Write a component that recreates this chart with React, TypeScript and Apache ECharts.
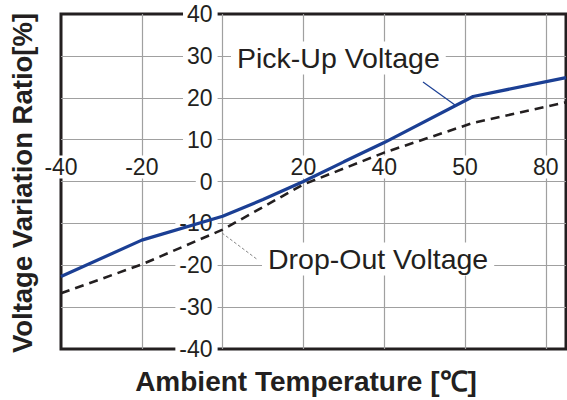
import React, { useEffect, useRef } from "react";
import * as echarts from "echarts";

const xTickValues = [-40, -20, 20, 40, 60, 80];
const xTickLabels = ["-40", "-20", "20", "40", "50", "80"];
const pickUpTemp = [-40, -20, 0, 10, 20, 30, 40, 62, 85];
const pickUpRatio = [-22.7, -14, -8.3, -4.3, 0, 4.7, 9.3, 20.3, 24.8];
const dropOutTemp = [-40, -20, 0, 20, 40, 62, 85];
const dropOutRatio = [-26.7, -19.8, -11.5, -0.7, 6.9, 14, 18.9];

const FONT = "'Liberation Sans', Arial, sans-serif";
const GRID = { left: 61, top: 14, right: 1, bottom: 51 };
const W = 567;
const H = 400;

export default function App() {
  const ref = useRef<HTMLDivElement>(null);
  useEffect(() => {
    if (!ref.current) return;
    const chart = echarts.init(ref.current, undefined, { renderer: "svg" });
    const pick = pickUpTemp.map((t, i) => [t, pickUpRatio[i]]);
    const drop = dropOutTemp.map((t, i) => [t, dropOutRatio[i]]);
    chart.setOption({
      animation: false,
      backgroundColor: "#fff",
      grid: {
        ...GRID,
        show: true,
        borderColor: "#231f20",
        borderWidth: 3,
        backgroundColor: "transparent",
      },
      xAxis: {
        type: "value",
        min: -40,
        max: 85,
        interval: 20,
        axisLine: { show: false, onZero: false },
        axisTick: { show: false },
        splitLine: {
          show: true,
          showMinLine: false,
          showMaxLine: false,
          lineStyle: { color: "#a0a0a0", width: 1.2 },
        },
        axisLabel: {
          inside: true,
          customValues: xTickValues,
          margin: 3,
          fontSize: 23,
          fontFamily: FONT,
          color: "#231f20",
          backgroundColor: "#fff",
          padding: [0, 3, 0, 3],
          formatter: (v: number) => {
            const i = xTickValues.indexOf(v);
            return i >= 0 ? xTickLabels[i] : "";
          },
        },
      },
      yAxis: {
        type: "value",
        min: -40,
        max: 40,
        interval: 10,
        axisLine: { show: false, onZero: false },
        axisTick: { show: false },
        splitLine: {
          show: true,
          showMinLine: false,
          showMaxLine: false,
          lineStyle: { color: "#a0a0a0", width: 1.2 },
        },
        axisLabel: {
          margin: 5,
          fontSize: 23,
          fontFamily: FONT,
          color: "#231f20",
          backgroundColor: "#fff",
          padding: [0, 5, 0, 4],
        },
      },
      series: [
        {
          name: "Pick-Up Voltage",
          type: "line",
          data: pick,
          showSymbol: false,
          smooth: false,
          lineStyle: { color: "#1b3f94", width: 3.2 },
          z: 3,
        },
        {
          name: "Drop-Out Voltage",
          type: "line",
          data: drop,
          showSymbol: false,
          lineStyle: { color: "#231f20", width: 2.6, type: [9, 6] },
          z: 3,
        },
      ],
      graphic: [
        {
          type: "line",
          z: 10,
          shape: { x1: 423, y1: 82, x2: 455, y2: 105 },
          style: { stroke: "#1b3f94", lineWidth: 1.2 },
        },
        {
          type: "line",
          z: 10,
          shape: { x1: 222, y1: 233, x2: 258, y2: 260 },
          style: { stroke: "#888", lineWidth: 1, lineDash: [3, 2] },
        },
        {
          type: "text",
          z: 10,
          x: 231,
          y: 58,
          style: {
            text: "Pick-Up Voltage",
            fontSize: 28.5,
            fontFamily: FONT,
            fill: "#231f20",
            align: "left",
            verticalAlign: "middle",
            backgroundColor: "#fff",
            padding: [2, 6, 2, 6],
          },
        },
        {
          type: "text",
          z: 10,
          x: 262,
          y: 259,
          style: {
            text: "Drop-Out Voltage",
            fontSize: 28.5,
            fontFamily: FONT,
            fill: "#231f20",
            align: "left",
            verticalAlign: "middle",
            backgroundColor: "#fff",
            padding: [2, 6, 2, 6],
          },
        },
        {
          type: "text",
          z: 10,
          x: 22,
          y: 183,
          rotation: Math.PI / 2,
          style: {
            text: "Voltage Variation Ratio[%]",
            fontSize: 27.5,
            fontWeight: "bold",
            fontFamily: FONT,
            fill: "#231f20",
            align: "center",
            verticalAlign: "middle",
          },
        },
        {
          type: "text",
          z: 10,
          x: 306,
          y: 381,
          style: {
            text: "Ambient Temperature [℃]",
            fontSize: 28,
            fontWeight: "bold",
            fontFamily: FONT,
            fill: "#231f20",
            align: "center",
            verticalAlign: "middle",
          },
        },
      ],
    });
    // Place the axes (and their labels) on the zero lines of the other axis.
    const zeroX = chart.convertToPixel({ xAxisIndex: 0 }, 0) as number;
    const zeroY = chart.convertToPixel({ yAxisIndex: 0 }, 0) as number;
    chart.setOption({
      xAxis: { offset: -((H - GRID.bottom) - zeroY) },
      yAxis: { offset: -(zeroX - GRID.left) },
    });
    return () => chart.dispose();
  }, []);
  return (
    <div
      ref={ref}
      style={{ position: "absolute", left: 0, top: 0, width: W, height: H }}
    />
  );
}
